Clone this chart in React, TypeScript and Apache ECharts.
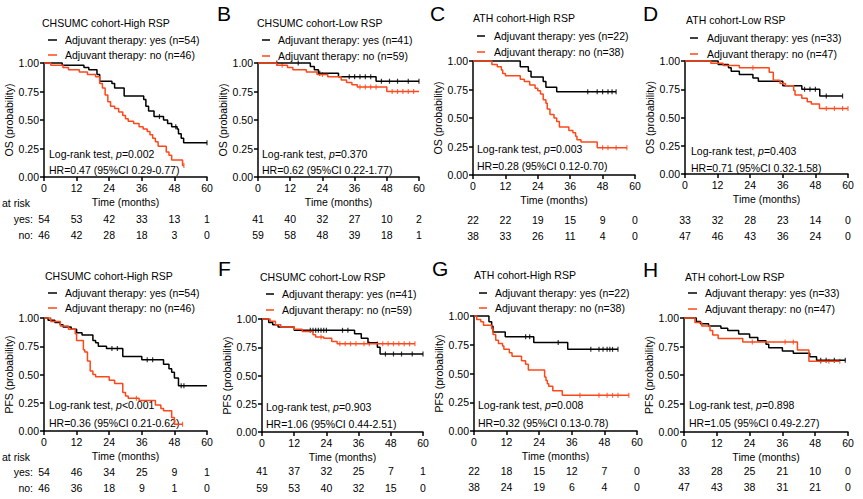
import React, { useEffect, useRef } from "react";
import * as echarts from "echarts";

// ---------- shared ticks ----------
const timeTicks = [0, 12, 24, 36, 48, 60];

// ---------- A: OS, CHSUMC cohort-High RSP ----------
const osChsHighYes = [[0,1],[6.7,0.98],[14.7,0.96],[16.5,0.94],[19.5,0.9],[20.5,0.84],[25,0.82],[26,0.78],[29.5,0.71],[36.7,0.68],[37.5,0.62],[38.5,0.58],[40.5,0.53],[44,0.5],[45.5,0.47],[47,0.44],[49,0.42],[49.5,0.38],[50.5,0.34],[51.4,0.3],[60,0.3]];
const osChsHighNo = [[0,1],[2.5,0.98],[7,0.96],[9,0.94],[13,0.92],[16,0.9],[19,0.88],[20.5,0.82],[21.5,0.78],[22.5,0.72],[23.5,0.66],[24.5,0.62],[26,0.6],[27.5,0.57],[29,0.54],[30,0.51],[31,0.49],[33,0.47],[35,0.44],[36.5,0.42],[38,0.4],[39,0.37],[40,0.34],[41,0.31],[42,0.27],[45,0.22],[46,0.19],[47,0.15],[51,0.1],[51.5,0.1]];
const osChsHighYesCens = [42.5, 48.5, 60];
const osChsHighNoCens = [51.5];
const osChsHighRiskYes = [54, 53, 42, 33, 13, 1];
const osChsHighRiskNo = [46, 42, 28, 18, 3, 0];

// ---------- B: OS, CHSUMC cohort-Low RSP ----------
const osChsLowYes = [[0,1],[19.5,0.97],[21,0.94],[22.5,0.91],[30,0.88],[44,0.84],[60,0.84]];
const osChsLowNo = [[0,1],[7,0.98],[11,0.96],[13,0.94],[18,0.92],[22,0.9],[26,0.88],[31,0.85],[33,0.83],[35,0.81],[37,0.79],[48,0.75],[60,0.75]];
const osChsLowYesCens = [7, 15, 23, 34, 36, 38, 40, 42, 46, 49, 52, 56, 60];
const osChsLowNoCens = [9, 24, 38, 40, 42, 44, 50, 52, 54, 56, 58];
const osChsLowRiskYes = [41, 40, 32, 27, 10, 2];
const osChsLowRiskNo = [59, 58, 48, 39, 18, 1];

// ---------- C: OS, ATH cohort-High RSP ----------
const osAthHighYes = [[0,1],[17.5,0.95],[20.5,0.91],[21.5,0.86],[26,0.82],[27,0.77],[31,0.73],[53,0.73]];
const osAthHighNo = [[0,1],[7,0.97],[9,0.95],[10.5,0.92],[11,0.89],[12,0.87],[17.5,0.84],[19,0.82],[21,0.79],[23,0.76],[24,0.74],[25,0.71],[26,0.66],[27,0.63],[27.5,0.58],[28.5,0.53],[30,0.5],[31,0.47],[32,0.42],[35.5,0.39],[37,0.37],[38,0.34],[38.5,0.31],[40,0.29],[46,0.24],[57,0.24]];
const osAthHighYesCens = [42.5, 46, 48, 50, 51.5, 53];
const osAthHighNoCens = [48, 50, 53, 57];
const osAthHighRiskYes = [22, 22, 19, 15, 9, 0];
const osAthHighRiskNo = [38, 33, 26, 11, 4, 0];

// ---------- D: OS, ATH cohort-Low RSP ----------
const osAthLowYes = [[0,1],[12.2,0.97],[16,0.94],[17,0.91],[20,0.88],[25,0.85],[27,0.82],[36,0.78],[43,0.75],[49.6,0.69],[58,0.69]];
const osAthLowNo = [[0,1],[9.5,0.98],[14,0.96],[20,0.94],[31,0.9],[32.5,0.83],[35,0.8],[37,0.78],[40,0.74],[40.5,0.7],[43,0.67],[45,0.64],[46.5,0.62],[49.5,0.58],[60,0.58]];
const osAthLowYesCens = [44, 46, 48, 52, 58];
const osAthLowNoCens = [25, 52, 55, 58, 60];
const osAthLowRiskYes = [33, 32, 28, 23, 14, 0];
const osAthLowRiskNo = [47, 46, 43, 36, 24, 0];

// ---------- E: PFS, CHSUMC cohort-High RSP ----------
const pfsChsHighYes = [[0,1],[1.5,0.98],[4,0.96],[6,0.94],[7,0.92],[10,0.9],[12,0.87],[14,0.85],[18,0.8],[19,0.78],[20,0.75],[23,0.73],[29,0.66],[36,0.63],[44,0.59],[46,0.55],[47,0.52],[48,0.47],[49.5,0.4],[60,0.4]];
const pfsChsHighNo = [[0,1],[2.5,0.97],[6,0.93],[9,0.9],[11.5,0.86],[12,0.8],[14.5,0.72],[15,0.7],[16,0.62],[17,0.53],[18,0.5],[19,0.48],[24,0.45],[26,0.42],[29,0.34],[30,0.31],[31,0.29],[35,0.27],[41,0.23],[43,0.2],[44,0.18],[47,0.12],[48,0.06],[51,0.06]];
const pfsChsHighYesCens = [25, 27, 38, 40, 50.5, 51.5];
const pfsChsHighNoCens = [34, 51];
const pfsChsHighRiskYes = [54, 46, 34, 25, 9, 1];
const pfsChsHighRiskNo = [46, 36, 18, 9, 1, 0];

// ---------- F: PFS, CHSUMC cohort-Low RSP ----------
const pfsChsLowYes = [[0,1],[2.5,0.97],[4,0.95],[6,0.93],[12,0.9],[34.5,0.87],[37,0.83],[39.5,0.79],[43,0.75],[44,0.69],[60,0.69]];
const pfsChsLowNo = [[0,1],[3,0.98],[5,0.95],[7,0.93],[12,0.91],[15,0.89],[19,0.86],[20,0.84],[23,0.83],[26,0.8],[28,0.78],[57,0.78]];
const pfsChsLowYesCens = [18, 19, 20, 21, 22, 23, 24, 30, 32, 46, 49, 52, 56, 60];
const pfsChsLowNoCens = [22, 29, 31, 33, 35, 38, 40, 43, 45, 47, 49, 51, 53, 55, 57];
const pfsChsLowRiskYes = [41, 37, 32, 25, 7, 1];
const pfsChsLowRiskNo = [59, 53, 40, 32, 15, 0];

// ---------- G: PFS, ATH cohort-High RSP ----------
const pfsAthHighYes = [[0,1],[5.5,0.95],[6.5,0.91],[7,0.86],[11.5,0.82],[22,0.77],[34.5,0.71],[53,0.71]];
const pfsAthHighNo = [[0,1],[1,0.97],[2.5,0.95],[3.5,0.92],[6.5,0.89],[7,0.84],[8,0.79],[9,0.76],[10.5,0.74],[11,0.71],[13,0.68],[14,0.65],[17.5,0.61],[19,0.58],[20,0.53],[26,0.47],[26.5,0.44],[27,0.41],[27.5,0.39],[29,0.35],[32.5,0.31],[57,0.31]];
const pfsAthHighYesCens = [19, 20.5, 31, 43, 46, 47.5, 49, 50, 51, 53];
const pfsAthHighNoCens = [39, 46, 49, 51, 53, 57];
const pfsAthHighRiskYes = [22, 18, 15, 12, 7, 0];
const pfsAthHighRiskNo = [38, 24, 19, 6, 4, 0];

// ---------- H: PFS, ATH cohort-Low RSP ----------
const pfsAthLowYes = [[0,1],[4.5,0.97],[6,0.95],[9,0.93],[13.5,0.91],[16,0.89],[20,0.86],[24,0.83],[27,0.8],[30,0.77],[31,0.74],[36,0.71],[40,0.69],[46,0.66],[48.5,0.63],[59,0.63]];
const pfsAthLowNo = [[0,1],[4,0.96],[6.5,0.93],[9.5,0.89],[10.5,0.85],[12.5,0.82],[21.5,0.79],[41.5,0.72],[45.7,0.62],[57,0.62]];
const pfsAthLowYesCens = [50, 52, 55, 59];
const pfsAthLowNoCens = [25, 37, 40, 50, 53, 57];
const pfsAthLowRiskYes = [33, 28, 25, 21, 10, 0];
const pfsAthLowRiskNo = [47, 43, 38, 31, 21, 0];

// ---------- panel descriptions ----------
const panelTitles = [
  "CHSUMC cohort-High RSP", "CHSUMC cohort-Low RSP", "ATH cohort-High RSP", "ATH cohort-Low RSP",
  "CHSUMC cohort-High RSP", "CHSUMC cohort-Low RSP", "ATH cohort-High RSP", "ATH cohort-Low RSP",
];
const panelLetters = ["", "B", "C", "D", "", "F", "G", "H"];
const yNames = ["OS (probability)", "OS (probability)", "OS (probability)", "OS (probability)",
  "PFS (probability)", "PFS (probability)", "PFS (probability)", "PFS (probability)"];
const nYes = [54, 41, 22, 33, 54, 41, 22, 33];
const nNo = [46, 59, 38, 47, 46, 59, 38, 47];
const pTexts = ["=0.002", "=0.370", "=0.003", "=0.403", "<0.001", "=0.903", "=0.008", "=0.898"];
const hrTexts = [
  "HR=0.47 (95%CI 0.29-0.77)", "HR=0.62 (95%CI 0.22-1.77)", "HR=0.28 (95%CI 0.12-0.70)", "HR=0.71 (95%CI 0.32-1.58)",
  "HR=0.36 (95%CI 0.21-0.62)", "HR=1.06 (95%CI 0.44-2.51)", "HR=0.32 (95%CI 0.13-0.78)", "HR=1.05 (95%CI 0.49-2.27)",
];
const yesCurves = [osChsHighYes, osChsLowYes, osAthHighYes, osAthLowYes, pfsChsHighYes, pfsChsLowYes, pfsAthHighYes, pfsAthLowYes];
const noCurves = [osChsHighNo, osChsLowNo, osAthHighNo, osAthLowNo, pfsChsHighNo, pfsChsLowNo, pfsAthHighNo, pfsAthLowNo];
const yesCens = [osChsHighYesCens, osChsLowYesCens, osAthHighYesCens, osAthLowYesCens, pfsChsHighYesCens, pfsChsLowYesCens, pfsAthHighYesCens, pfsAthLowYesCens];
const noCens = [osChsHighNoCens, osChsLowNoCens, osAthHighNoCens, osAthLowNoCens, pfsChsHighNoCens, pfsChsLowNoCens, pfsAthHighNoCens, pfsAthLowNoCens];
const riskYes = [osChsHighRiskYes, osChsLowRiskYes, osAthHighRiskYes, osAthLowRiskYes, pfsChsHighRiskYes, pfsChsLowRiskYes, pfsAthHighRiskYes, pfsAthLowRiskYes];
const riskNo = [osChsHighRiskNo, osChsLowRiskNo, osAthHighRiskNo, osAthLowRiskNo, pfsChsHighRiskNo, pfsChsLowRiskNo, pfsAthHighRiskNo, pfsAthLowRiskNo];

// ---------- layout (pixels) ----------
const GRIDS = [
  { left: 44, top: 63, width: 163, height: 114 },
  { left: 258, top: 63, width: 161, height: 114 },
  { left: 473, top: 61, width: 162, height: 114 },
  { left: 685, top: 61, width: 163, height: 113 },
  { left: 44, top: 318, width: 163, height: 113 },
  { left: 262, top: 319, width: 161, height: 113 },
  { left: 474, top: 316, width: 163, height: 115 },
  { left: 684, top: 318, width: 164, height: 114 },
];
const LAYOUT = [
  { tx: 42, ty: 23, lx1: 48, lx2: 57, ltx: 65, ly1: 40, ly2: 55, sx: 49, sy1: 154, sy2: 170, ry1: 219, ry2: 235, ax: 0, ay: 0 },
  { tx: 257, ty: 23, lx1: 262, lx2: 270, ltx: 278, ly1: 40, ly2: 56, sx: 262, sy1: 154, sy2: 170, ry1: 219, ry2: 235, ax: 217, ay: 13 },
  { tx: 473, ty: 18, lx1: 477, lx2: 485, ltx: 494, ly1: 36, ly2: 52, sx: 477, sy1: 149, sy2: 166, ry1: 220, ry2: 236, ax: 430, ay: 13 },
  { tx: 686, ty: 20, lx1: 690, lx2: 698, ltx: 707, ly1: 38, ly2: 54, sx: 691, sy1: 151, sy2: 168, ry1: 220, ry2: 236, ax: 643, ay: 13 },
  { tx: 45, ty: 276, lx1: 48, lx2: 57, ltx: 65, ly1: 293, ly2: 308, sx: 49, sy1: 405, sy2: 423, ry1: 472, ry2: 488, ax: 0, ay: 0 },
  { tx: 260, ty: 277, lx1: 266, lx2: 274, ltx: 282, ly1: 294, ly2: 310, sx: 266, sy1: 407, sy2: 424, ry1: 471, ry2: 488, ax: 218, ay: 268 },
  { tx: 474, ty: 275, lx1: 479, lx2: 487, ltx: 495, ly1: 293, ly2: 308, sx: 478, sy1: 405, sy2: 423, ry1: 471, ry2: 487, ax: 432, ay: 268 },
  { tx: 685, ty: 277, lx1: 688, lx2: 697, ltx: 705, ly1: 293, ly2: 309, sx: 689, sy1: 405, sy2: 423, ry1: 471, ry2: 487, ax: 643, ay: 269 },
];

const FONT = "'Liberation Sans', Arial, Helvetica, sans-serif";
const FS = 10.5;
const BLACK = "#000000";
const RED = "#ff4719";

function stepValue(curve: number[][], t: number) {
  let v = curve[0][1];
  for (const [x, y] of curve) if (x <= t) v = y;
  return v;
}

function txt(text: string, x: number, y: number, extra: any = {}) {
  return {
    type: "text", x, y, silent: true,
    style: { text, fill: "#000", fontSize: FS, fontFamily: FONT, align: "left", verticalAlign: "middle", ...extra },
  };
}

export default function App() {
  const ref = useRef<HTMLDivElement>(null);
  useEffect(() => {
    if (!ref.current) return;
    const chart = echarts.init(ref.current, undefined, { renderer: "svg" });
    const grid: any[] = [];
    const xAxis: any[] = [];
    const yAxis: any[] = [];
    const series: any[] = [];
    GRIDS.forEach((g, i) => {
      grid.push({ ...g, containLabel: false });
      xAxis.push({
        type: "value", gridIndex: i, min: 0, max: 60, interval: 12,
        name: "Time (months)", nameLocation: "middle", nameGap: 19,
        nameTextStyle: { fontSize: FS, fontFamily: FONT, color: "#000" },
        axisLine: { show: true, onZero: false, lineStyle: { color: "#000", width: 1.5 } },
        axisTick: { show: true, length: 4, lineStyle: { color: "#000", width: 1.5 } },
        axisLabel: { fontSize: FS, fontFamily: FONT, color: "#000", margin: 5 },
        splitLine: { show: false },
      });
      yAxis.push({
        type: "value", gridIndex: i, min: 0, max: 1, interval: 0.25,
        name: yNames[i], nameLocation: "middle", nameGap: 29,
        nameTextStyle: { fontSize: FS, fontFamily: FONT, color: "#000" },
        axisLine: { show: true, onZero: false, lineStyle: { color: "#000", width: 1.5 } },
        axisTick: { show: true, length: 4, lineStyle: { color: "#000", width: 1.5 } },
        axisLabel: { fontSize: FS, fontFamily: FONT, color: "#000", margin: 5, formatter: (v: number) => v.toFixed(2) },
        splitLine: { show: false },
      });
      const mk = (curve: number[][], color: string, name: string) => ({
        type: "line", name, xAxisIndex: i, yAxisIndex: i, data: curve, step: "end",
        showSymbol: false, symbol: "none", lineStyle: { color, width: 1.5 }, itemStyle: { color },
        silent: true, clip: false,
      });
      const cens = (times: number[], curve: number[][], color: string) => ({
        type: "scatter", xAxisIndex: i, yAxisIndex: i,
        data: times.map((t) => [t, stepValue(curve, t)]),
        symbol: "rect", symbolSize: [1.2, 5], itemStyle: { color }, silent: true,
      });
      series.push(mk(yesCurves[i], BLACK, "yes"));
      series.push(cens(yesCens[i], yesCurves[i], BLACK));
      series.push(mk(noCurves[i], RED, "no"));
      series.push(cens(noCens[i], noCurves[i], RED));
    });
    chart.setOption({ animation: false, backgroundColor: "#fff", grid, xAxis, yAxis, series });

    const graphic: any[] = [];
    LAYOUT.forEach((L, i) => {
      graphic.push(txt(panelTitles[i], L.tx, L.ty));
      graphic.push({ type: "line", silent: true, shape: { x1: L.lx1, y1: L.ly1, x2: L.lx2, y2: L.ly1 }, style: { stroke: BLACK, lineWidth: 1.5 } });
      graphic.push({ type: "line", silent: true, shape: { x1: L.lx1, y1: L.ly2, x2: L.lx2, y2: L.ly2 }, style: { stroke: RED, lineWidth: 1.5 } });
      graphic.push(txt(`Adjuvant therapy: yes (n=${nYes[i]})`, L.ltx, L.ly1));
      graphic.push(txt(`Adjuvant therapy: no (n=${nNo[i]})`, L.ltx, L.ly2));
      graphic.push({
        type: "text", x: L.sx, y: L.sy1, silent: true,
        style: {
          text: `Log-rank test, {i|p}${pTexts[i]}`, fill: "#000", fontSize: FS, fontFamily: FONT, verticalAlign: "middle",
          rich: { i: { fontStyle: "italic", fontSize: FS, fontFamily: FONT, fill: "#000" } },
        },
      });
      graphic.push(txt(hrTexts[i], L.sx, L.sy2));
      if (panelLetters[i]) graphic.push(txt(panelLetters[i], L.ax, L.ay, { fontSize: 21 }));
      timeTicks.forEach((t, k) => {
        const p = chart.convertToPixel({ gridIndex: i } as any, [t, 0]) as number[];
        graphic.push(txt(String(riskYes[i][k]), p[0], L.ry1, { align: "center" }));
        graphic.push(txt(String(riskNo[i][k]), p[0], L.ry2, { align: "center" }));
      });
    });
    graphic.push(txt("at risk", 2, 203));
    graphic.push(txt("yes:", 33, 219, { align: "right" }));
    graphic.push(txt("no:", 33, 235, { align: "right" }));
    graphic.push(txt("at risk", 2, 457));
    graphic.push(txt("yes:", 33, 472, { align: "right" }));
    graphic.push(txt("no:", 33, 488, { align: "right" }));
    chart.setOption({ graphic });
    return () => chart.dispose();
  }, []);
  return (
    <div
      ref={ref}
      style={{ position: "fixed", left: 0, top: 0, width: 863, height: 499, background: "#fff" }}
    />
  );
}
